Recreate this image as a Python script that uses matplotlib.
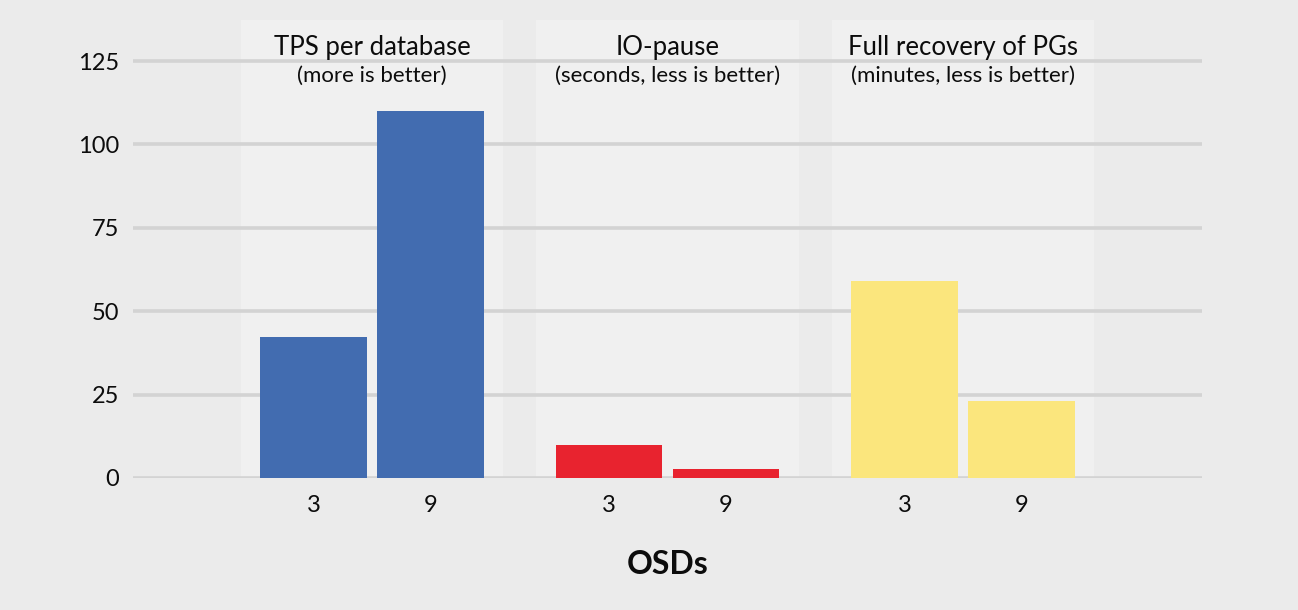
import numpy as np
import matplotlib
matplotlib.use("Agg")
import matplotlib.pyplot as plt

# data
groups = ["TPS per database", "IO-pause", "Full recovery of PGs"]
subtitles = ["(more is better)", "(seconds, less is better)", "(minutes, less is better)"]
osd_labels = ["3", "9"]
osd3 = [42.3, 10.0, 59.0]
osd9 = [110.0, 2.7, 23.1]
colors = ["#426cb0", "#e8232f", "#fbe67d"]
yticks = [0, 25, 50, 75, 100, 125]

plt.rcParams["font.family"] = ["Lato", "DejaVu Sans"]

bg = "#ebebeb"
panel = "#f0f0f0"
grid = "#d3d3d3"
ink = "#0c0c0c"

fig = plt.figure(figsize=(12.98, 6.10), dpi=100, facecolor=bg)
ax = fig.add_axes([133 / 1298, 132 / 610, (1202 - 133) / 1298, 458 / 610])
ax.set_facecolor(bg)

x = np.arange(len(groups))
bw = 0.362
off = 0.198
ytop = 137.3

# light panels behind each group
ax.bar(x, [ytop] * len(groups), width=0.887, color=panel, zorder=0.2)

ax.bar(x - off, osd3, width=bw, color=colors, zorder=3)
ax.bar(x + off, osd9, width=bw, color=colors, zorder=3)

ax.set_xlim(-0.809, 2.809)
ax.set_ylim(0, ytop)
ax.set_yticks(yticks)
ax.set_yticklabels([str(t) for t in yticks], fontsize=17)
ax.yaxis.grid(True, color=grid, linewidth=2.6)
for gl in ax.get_ygridlines():
    gl.set_zorder(1)

ticks = np.concatenate([x - off, x + off])
ax.set_xticks(ticks)
ax.set_xticklabels(osd_labels[:1] * 3 + osd_labels[1:] * 3, fontsize=17)
ax.tick_params(axis="both", length=0, colors=ink)
ax.tick_params(axis="x", pad=12)
ax.tick_params(axis="y", pad=10)
for s in ax.spines.values():
    s.set_visible(False)

for i in range(len(groups)):
    ax.text(x[i], 129.0, groups[i], ha="center", va="center", fontsize=18.5, color=ink)
    ax.text(x[i], 120.6, subtitles[i], ha="center", va="center", fontsize=16, color=ink)

ax.set_xlabel("OSDs", fontsize=23, fontweight="bold", labelpad=25, color=ink)

fig.savefig("out.png", dpi=100, facecolor=bg)
